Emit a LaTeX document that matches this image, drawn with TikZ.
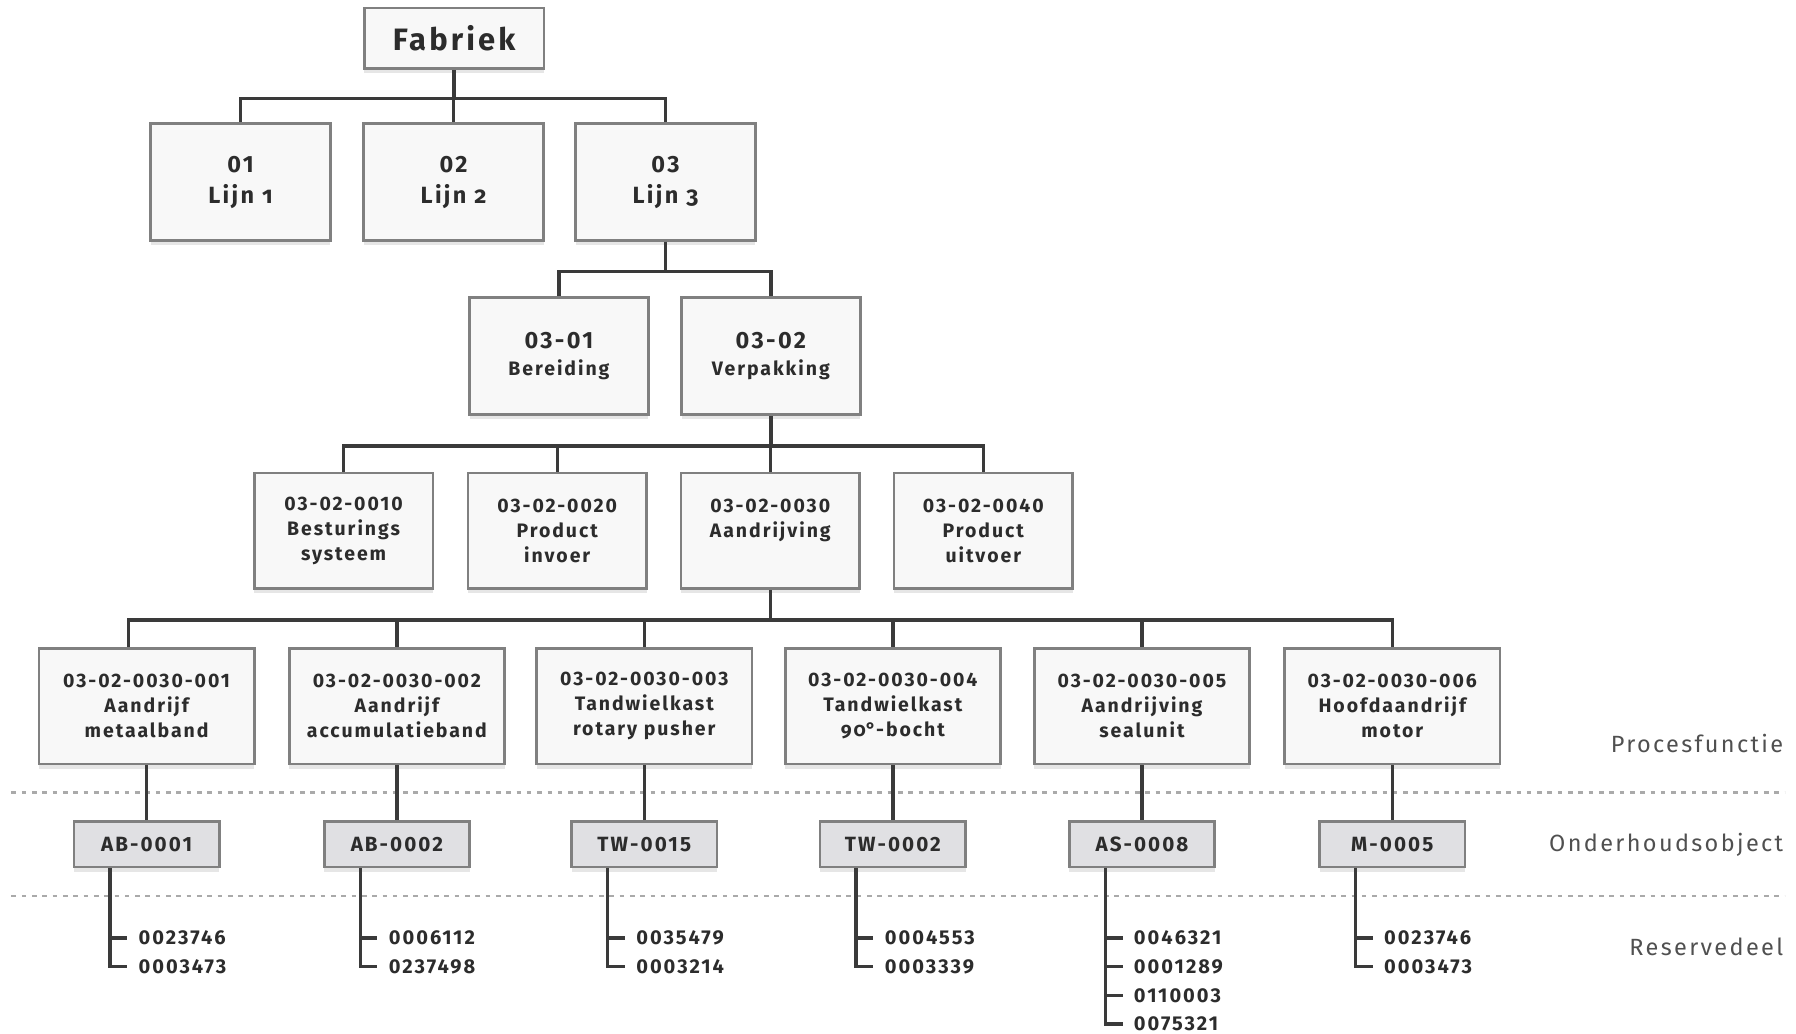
\documentclass[tikz,border=0pt]{standalone}
\usepackage{fontspec}
\setmainfont{Fira Sans}[LetterSpace=10]
\usetikzlibrary{positioning, shadows, calc}
\definecolor{boxgray}{RGB}{128, 128, 128}
\definecolor{boxfill}{RGB}{248, 248, 248}
\definecolor{tagfill}{RGB}{224, 224, 227}
\definecolor{linegray}{RGB}{58, 58, 58}
\definecolor{textgray}{RGB}{44, 44, 44}
\definecolor{dashgray}{RGB}{170, 170, 170}
\definecolor{labelgray}{RGB}{80, 80, 80}
\newcommand{\osf}{\addfontfeatures{Numbers=OldStyle}}

\begin{document}
\begin{tikzpicture}[
    x=1pt, y=-1pt,
    unit/.style={rectangle, draw=boxgray, line width=2.4pt, fill=boxfill, text=textgray, align=center, inner sep=0pt, drop shadow={shadow xshift=0pt, shadow yshift=-4pt, opacity=0.2}},
    fabriek/.style={unit, minimum width=157pt, minimum height=53pt, font=\fontsize{27}{32}\selectfont\bfseries},
    lijnbox/.style={unit, minimum width=157pt, minimum height=102pt, font=\fontsize{20.5}{27}\selectfont\bfseries},
    afdeling/.style={unit, minimum width=156pt, minimum height=102pt, font=\fontsize{17}{23}\selectfont\bfseries},
    groep/.style={unit, minimum width=156pt, minimum height=101pt, font=\fontsize{17}{21.5}\selectfont\bfseries},
    functie/.style={unit, minimum width=188pt, minimum height=101pt, font=\fontsize{17}{22}\selectfont\bfseries},
    object/.style={unit, fill=tagfill, minimum width=127pt, minimum height=40pt, font=\fontsize{18}{21}\selectfont\bfseries},
    deel/.style={anchor=west, inner xsep=0pt, outer xsep=10pt, text=textgray, font=\fontsize{17.5}{21}\selectfont\bfseries},
    laag/.style={anchor=east, inner sep=0pt, text=labelgray, font=\fontsize{20.5}{24}\selectfont},
    conn/.style={draw=linegray, line width=3pt},
    scheiding/.style={draw=dashgray, line width=2pt, dash pattern=on 4pt off 5pt}
]
\useasboundingbox (0,0) rectangle (1568,902);

% Layer separators
\coordinate (sepA1) at (10,692);
\coordinate (sepA2) at (1558,692);
\coordinate (sepB1) at (10,782);
\coordinate (sepB2) at (1558,782);
\draw [scheiding] (sepA1) -- (sepA2);
\draw [scheiding] (sepB1) -- (sepB2);

% Factory and lines
\node (fab) [fabriek] at (396.5,33.5) {Fabriek};
\node (l1) [lijnbox] at (210,159) {01\\{\osf Lijn 1}};
\node (l2) [lijnbox] at (396,159) {02\\{\osf Lijn 2}};
\node (l3) [lijnbox] at (581,159) {03\\{\osf Lijn 3}};

% Departments
\node (ber) [afdeling] at (488,311) {{\fontsize{20.5}{23}\selectfont 03-01}\\Bereiding};
\node (verp) [afdeling] at (673,311) {{\fontsize{20.5}{23}\selectfont 03-02}\\Verpakking};

% Groups
\node (g1) [groep] at (300,463.5) {03-02-0010\\Besturings\\systeem};
\node (g2) [groep] at (486.5,463.5) {03-02-0020\\Product\\invoer};
\node (g3) [groep] at (672.5,463.5) {03-02-0030\\Aandrijving\\~};
\node (g4) [groep] at (858.5,463.5) {03-02-0040\\Product\\uitvoer};

% Process functions
\node (f1) [functie] at (128,616.5) {03-02-0030-001\\Aandrijf\\metaalband};
\node (f2) [functie] at (346.5,616.5) {03-02-0030-002\\Aandrijf\\accumulatieband};
\node (f3) [functie] at (562.5,616.5) {03-02-0030-003\\Tandwielkast\\rotary pusher};
\node (f4) [functie] at (779.5,616.5) {03-02-0030-004\\Tandwielkast\\{\osf 90}°-bocht};
\node (f5) [functie] at (997,616.5) {03-02-0030-005\\Aandrijving\\sealunit};
\node (f6) [functie] at (1215.5,616.5) {03-02-0030-006\\Hoofdaandrijf\\motor};

% Maintenance objects
\node (o1) [object] at (128,737) {AB-0001};
\node (o2) [object] at (346.5,737) {AB-0002};
\node (o3) [object] at (562.5,737) {TW-0015};
\node (o4) [object] at (779.5,737) {TW-0002};
\node (o5) [object] at (997,737) {AS-0008};
\node (o6) [object] at (1215.5,737) {M-0005};

% Connectors
\foreach \child in {l1, l2, l3} {
    \draw [conn] (fab.south) -- ++(0,25) -| (\child.north);
}
\foreach \child in {ber, verp} {
    \draw [conn] (l3.south) -- ++(0,26) -| (\child.north);
}
\foreach \child in {g1, g2, g3, g4} {
    \draw [conn] (verp.south) -- ++(0,26) -| (\child.north);
}
\draw [conn] (g3.south) -- ++(0,26) -| ([xshift=-16pt]f1.north);
\foreach \child in {f2, f3, f4, f5, f6} {
    \draw [conn] (g3.south) -- ++(0,26) -| (\child.north);
}
\foreach \i in {1,...,6} {
    \draw [conn] (f\i.south) -- (o\i.north);
}

% Spare parts
\foreach \obj/\nums in {o1/{0023746,0003473}, o2/{0006112,0237498}, o3/{0035479,0003214}, o4/{0004553,0003339}, o5/{0046321,0001289,0110003,0075321}, o6/{0023746,0003473}} {
    \coordinate (\obj s) at ([xshift=-32pt]\obj.south);
    \foreach \num [count=\k] in \nums {
        \pgfmathsetmacro{\yy}{794+25*\k}
        \node (\obj p\k) [deel] at ([xshift=15pt]\obj s |- 0,\yy) {\num};
        \draw [conn] (\obj s) |- (\obj p\k.west);
    }
}

% Layer labels
\node (proc) [laag] at (1557,649) {Procesfunctie};
\node (onder) [laag] at (1557,738) {Onderhoudsobject};
\node (reserve) [laag] at (1557,827) {Reservedeel};

\end{tikzpicture}
\end{document}
